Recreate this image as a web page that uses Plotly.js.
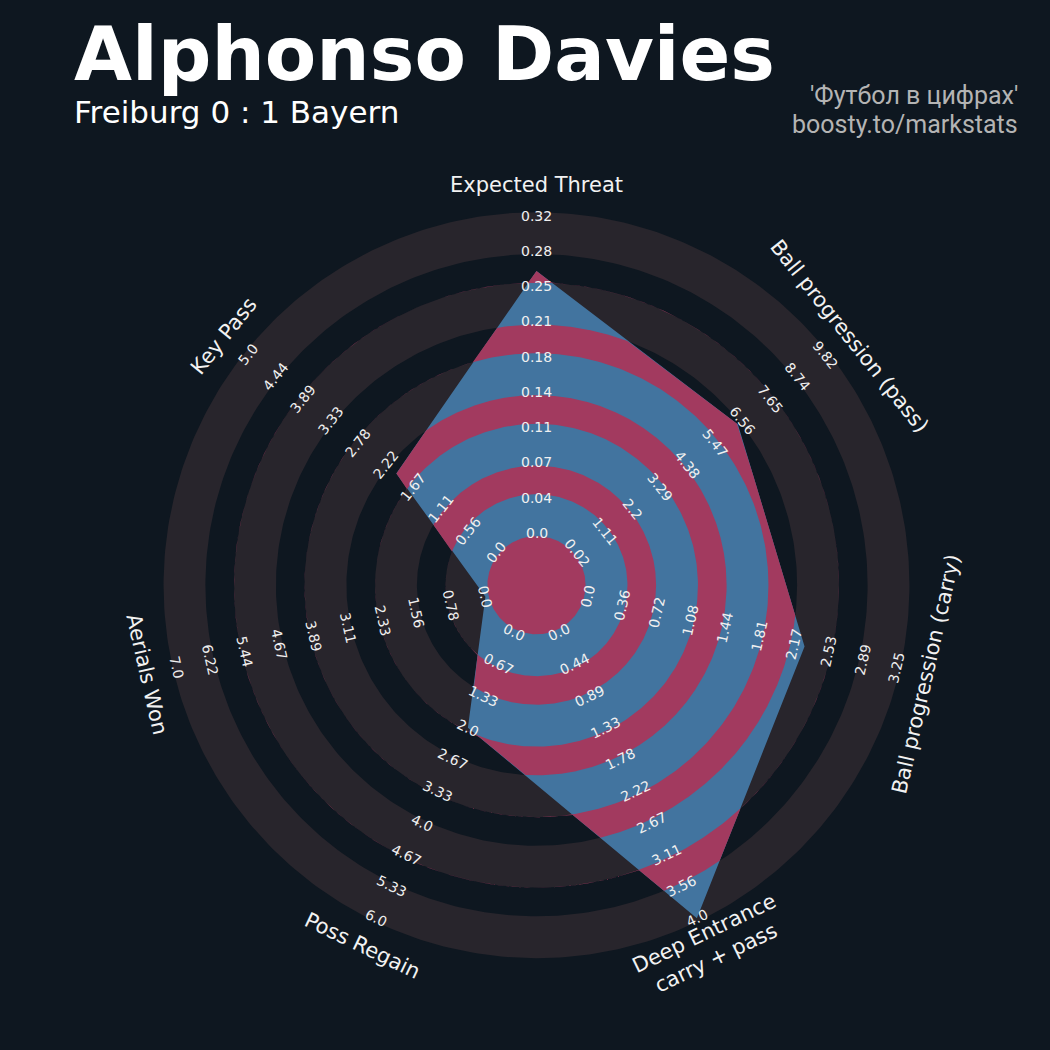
<!DOCTYPE html>
<html><head><meta charset="utf-8">
<script src="https://cdn.plot.ly/plotly-3.0.1.min.js"></script>
<style>html,body{margin:0;padding:0;background:#0e1720;} #chart{width:1050px;height:1050px;}</style>
</head><body><div id="chart"></div>
<script>
// ---------- data ----------
const params = ['Expected Threat', 'Ball progression (pass)', 'Ball progression (carry)',
  'Deep Entrance<br>carry + pass', 'Poss Regain', 'Aerials Won', 'Key Pass'];
const minRange = [0.0, 0.02, 0.0, 0.0, 0.0, 0.0, 0.0];
const maxRange = [0.32, 9.82, 3.25, 4.0, 6.0, 7.0, 5.0];
const values = [0.264, 6.36, 2.28, 4.0, 2.0, 0.0, 2.0];

const ticksXT = ['0.0', '0.04', '0.07', '0.11', '0.14', '0.18', '0.21', '0.25', '0.28', '0.32'];
const ticksPass = ['0.02', '1.11', '2.2', '3.29', '4.38', '5.47', '6.56', '7.65', '8.74', '9.82'];
const ticksCarry = ['0.0', '0.36', '0.72', '1.08', '1.44', '1.81', '2.17', '2.53', '2.89', '3.25'];
const ticksDeep = ['0.0', '0.44', '0.89', '1.33', '1.78', '2.22', '2.67', '3.11', '3.56', '4.0'];
const ticksPoss = ['0.0', '0.67', '1.33', '2.0', '2.67', '3.33', '4.0', '4.67', '5.33', '6.0'];
const ticksAerial = ['0.0', '0.78', '1.56', '2.33', '3.11', '3.89', '4.67', '5.44', '6.22', '7.0'];
const ticksKey = ['0.0', '0.56', '1.11', '1.67', '2.22', '2.78', '3.33', '3.89', '4.44', '5.0'];
const tickLabels = [ticksXT, ticksPass, ticksCarry, ticksDeep, ticksPoss, ticksAerial, ticksKey];

const titleText = 'Alphonso Davies';
const subtitleText = 'Freiburg 0 : 1 Bayern';
const creditLines = ["'Футбол в цифрах'", 'boosty.to/markstats'];

// ---------- style / geometry ----------
const BG = '#0e1720', RING = '#28252c', BLUE = '#42749f', MAG = '#a23a5f';
const CENTER_R = 52.4, BAND = 35.25, EDGE = 3.3, NB = 9;
const OUTER_R = CENTER_R + NB * BAND;
const PARAM_R = 400;
const n = params.length;
const angDeg = params.map((_, i) => 90 - i * 360 / n);
const ang = angDeg.map(d => d * Math.PI / 180);

function radiusOf(i, v) {
  return CENTER_R + (v - minRange[i]) / (maxRange[i] - minRange[i]) * (OUTER_R - CENTER_R);
}
const vx = values.map((v, i) => radiusOf(i, v) * Math.cos(ang[i]));
const vy = values.map((v, i) => radiusOf(i, v) * Math.sin(ang[i]));

function circlePts(r, reverse) {
  const xs = [], ys = [], N = 400;
  for (let j = 0; j <= N; j++) {
    const t = (reverse ? (N - j) : j) / N * 2 * Math.PI;
    xs.push(r * Math.cos(t)); ys.push(r * Math.sin(t));
  }
  return [xs, ys];
}
function shapeTrace(xs, ys, color) {
  return {type: 'scatter', mode: 'lines', x: xs, y: ys, fill: 'toself', fillcolor: color,
    line: {width: 0, color: 'rgba(0,0,0,0)'}, hoverinfo: 'skip', showlegend: false};
}
function annulus(a, b, color) {
  const [ox, oy] = circlePts(b, false);
  const [ix, iy] = circlePts(a, true);
  return shapeTrace(ox.concat(ix), oy.concat(iy), color);
}
function polyRadius(t) {
  const dx = Math.cos(t), dy = Math.sin(t);
  let best = 0;
  for (let i = 0; i < n; i++) {
    const j = (i + 1) % n;
    const px = vx[i], py = vy[i], ex = vx[j] - px, ey = vy[j] - py;
    const den = dx * ey - dy * ex;
    if (Math.abs(den) < 1e-12) continue;
    const s = (px * ey - py * ex) / den;
    const u = (px * dy - py * dx) / den;
    if (u >= -1e-9 && u <= 1 + 1e-9 && s > 0) best = Math.max(best, s);
  }
  return best;
}
const thetas = [];
for (let j = 0; j < 2400; j++) thetas.push(j / 2400 * 2 * Math.PI);
ang.forEach(a => thetas.push(((a % (2 * Math.PI)) + 2 * Math.PI) % (2 * Math.PI)));
thetas.sort((a, b) => a - b);
thetas.push(thetas[0] + 2 * Math.PI);
const polyR = thetas.map(polyRadius);

function clippedBand(a, b, color) {
  const xs = [], ys = [];
  thetas.forEach((t, j) => {
    const r = Math.min(b, Math.max(a, polyR[j]));
    xs.push(r * Math.cos(t)); ys.push(r * Math.sin(t));
  });
  const [ix, iy] = circlePts(a, true);
  return shapeTrace(xs.concat(ix), ys.concat(iy), color);
}

const traces = [];
// background rings
for (let k = 0; k < 5; k++) {
  traces.push(annulus(CENTER_R + 2 * k * BAND - EDGE, CENTER_R + (2 * k + 1) * BAND + EDGE, RING));
}
// radar polygon
traces.push(shapeTrace(vx.concat([vx[0]]), vy.concat([vy[0]]), BLUE));
// alternate colour bands inside the polygon
for (let k = 0; k < 4; k++) {
  traces.push(clippedBand(CENTER_R + (2 * k + 1) * BAND + EDGE, CENTER_R + (2 * k + 2) * BAND - EDGE, MAG));
}
// center circle
{
  const [cx, cy] = circlePts(CENTER_R - EDGE, false);
  traces.push(shapeTrace(cx, cy, MAG));
}

function textRot(deg) {
  let r = deg - 90;
  while (r <= -180) r += 360;
  while (r > 180) r -= 360;
  if (r < -90) r += 180;
  if (r > 90) r -= 180;
  return -r; // plotly: clockwise positive
}

const annotations = [];
params.forEach((p, i) => {
  const rot = textRot(angDeg[i]);
  annotations.push({x: PARAM_R * Math.cos(ang[i]), y: PARAM_R * Math.sin(ang[i]), xref: 'x', yref: 'y',
    text: p, showarrow: false, textangle: rot, xanchor: 'center', yanchor: 'middle', align: 'center',
    font: {family: 'DejaVu Sans', size: 21, color: '#f2f2f2'}});
  tickLabels[i].forEach((lab, k) => {
    const r = CENTER_R + k * BAND;
    annotations.push({x: r * Math.cos(ang[i]), y: r * Math.sin(ang[i]), xref: 'x', yref: 'y',
      text: lab, showarrow: false, textangle: rot, xanchor: 'center', yanchor: 'middle',
      font: {family: 'DejaVu Sans', size: 14, color: '#f0f0f0'}});
  });
});
annotations.push({xref: 'paper', yref: 'paper', x: 72 / 1050, y: 1 - 54 / 1050, xanchor: 'left', yanchor: 'middle',
  text: '<b>' + titleText + '</b>', showarrow: false, font: {family: 'DejaVu Sans', size: 75, color: '#ffffff'}});
annotations.push({xref: 'paper', yref: 'paper', x: 72 / 1050, y: 1 - 112 / 1050, xanchor: 'left', yanchor: 'middle',
  text: subtitleText, showarrow: false, font: {family: 'DejaVu Sans', size: 31, color: '#ffffff'}});
annotations.push({xref: 'paper', yref: 'paper', x: 1020 / 1050, y: 1 - 96 / 1050, xanchor: 'right', yanchor: 'middle',
  text: creditLines[0], showarrow: false, font: {family: 'Roboto', size: 25, color: '#b4b4b4'}});
annotations.push({xref: 'paper', yref: 'paper', x: 1020 / 1050, y: 1 - 124 / 1050, xanchor: 'right', yanchor: 'middle',
  text: creditLines[1], showarrow: false, font: {family: 'Roboto', size: 25, color: '#b4b4b4'}});

const layout = {
  width: 1050, height: 1050, margin: {l: 0, r: 0, t: 0, b: 0, pad: 0},
  paper_bgcolor: BG, plot_bgcolor: BG, showlegend: false,
  xaxis: {range: [-536.5, 513.5], visible: false, fixedrange: true},
  yaxis: {range: [-464.8, 585.2], visible: false, fixedrange: true},
  annotations: annotations
};
Plotly.newPlot('chart', traces, layout, {staticPlot: true, displayModeBar: false});
</script></body></html>
